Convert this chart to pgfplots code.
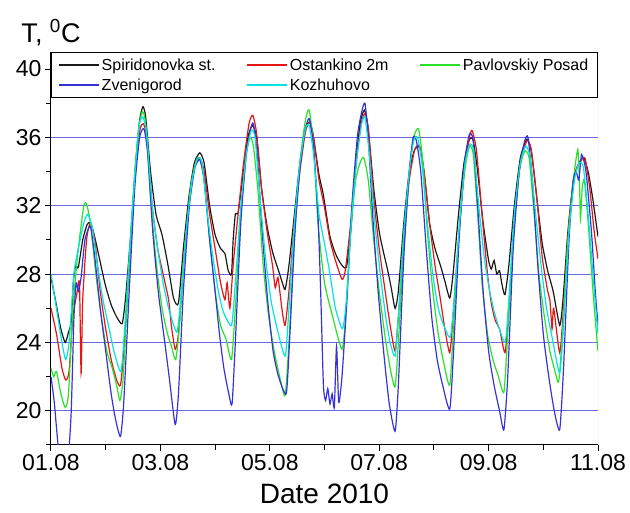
\documentclass[border=0pt]{standalone}
\usepackage{fontspec}
\setmainfont{Liberation Sans}
\usepackage{pgfplots}
\pgfplotsset{compat=1.18}
\definecolor{gridblue}{RGB}{105,105,225}
\definecolor{cBlack}{RGB}{25,25,25}
\definecolor{cRed}{RGB}{230,20,20}
\definecolor{cGreen}{RGB}{40,225,40}
\definecolor{cBlue}{RGB}{55,50,215}
\definecolor{cCyan}{RGB}{0,228,228}
\begin{document}
\begin{tikzpicture}
\begin{axis}[
  width=547pt, height=393pt, scale only axis,
  xmin=0, xmax=10, ymin=18, ymax=41,
  xtick={0,2,4,6,8,10},
  xticklabels={01.08,03.08,05.08,07.08,09.08,11.08},
  minor xtick={1,3,5,7,9},
  ytick={20,24,28,32,36,40},
  minor ytick={18,22,26,30,34,38},
  tick align=outside, major tick length=6pt, minor tick length=5pt,
  axis x line*=bottom, axis y line*=left,
  axis line style={black, line width=1pt},
  major tick style={black, line width=1pt},
  minor tick style={black, line width=1pt},
  ymajorgrids,
  major grid style={draw=gridblue, line width=0.9pt},
  /pgf/number format/assume math mode=true,
  tick label style={font=\fontsize{23}{25}\selectfont},
  xlabel={Date 2010},
  xlabel style={font=\fontsize{28}{30}\selectfont, yshift=-6pt},
  ylabel={T, \textsuperscript{0}C},
  ylabel style={font=\fontsize{27}{29}\selectfont, rotate=-90, at={(rel axis cs:0,1)}, anchor=south, yshift=3pt},
  legend columns=3,
  legend cell align=left,
  legend style={at={(0,1)}, anchor=north west, draw=black, line width=0.9pt, fill=white,
    font=\fontsize{16}{18}\selectfont, inner xsep=7pt, inner ysep=4pt, row sep=3pt,
    /tikz/every even column/.append style={column sep=29pt}},
  legend image code/.code={\draw[#1, line width=1.3pt] (0pt,0pt) -- (40pt,0pt);},
  clip=true,
]
\coordinate (O) at (rel axis cs:0,0);
\draw[gray!55, line width=0.8pt] (rel axis cs:1,0) -- (rel axis cs:1,1);
% Spiridonovka st.
\addplot[cBlack, line width=1.2pt, smooth, tension=0.35] coordinates {
(0,27.8) (0.08,26.5) (0.18,24.8) (0.26,24.0) (0.32,24.6) (0.37,25.2) (0.41,27.6) (0.45,28.5) (0.5,28.4) (0.58,30.0) (0.66,30.9) (0.72,31.0) (0.79,30.3) (0.88,29.0) (0.99,27.4) (1.1,26.2) (1.2,25.5) (1.3,25.1) (1.36,26.5) (1.45,30.0) (1.55,34.5) (1.62,37.0) (1.68,37.8) (1.73,37.2) (1.82,34.0) (1.92,31.5) (2.03,30.3) (2.14,28.5) (2.24,26.6) (2.33,26.3) (2.42,29.5) (2.52,32.5) (2.62,34.5) (2.72,35.1) (2.8,34.5) (2.9,32.0) (3.0,30.3) (3.1,29.5) (3.18,29.2) (3.24,28.2) (3.3,28.0) (3.33,30.0) (3.37,31.5) (3.42,31.6) (3.5,33.5) (3.6,36.0) (3.68,36.7) (3.76,36.0) (3.85,33.0) (3.95,30.8) (4.05,29.3) (4.15,28.3) (4.22,27.6) (4.28,27.1) (4.35,28.5) (4.45,31.5) (4.55,34.5) (4.65,36.5) (4.73,36.9) (4.8,36.0) (4.9,33.8) (4.97,32.8) (5.02,31.8) (5.1,30.2) (5.2,29.2) (5.3,28.6) (5.4,28.4) (5.48,30.5) (5.56,34.0) (5.65,36.8) (5.73,37.6) (5.8,36.5) (5.9,33.0) (6.0,30.5) (6.07,29.4) (6.15,28.3) (6.22,27.2) (6.29,26.0) (6.35,27.0) (6.45,31.0) (6.55,34.0) (6.65,35.3) (6.74,35.4) (6.82,34.0) (6.92,31.0) (7.02,29.5) (7.12,28.5) (7.2,27.6) (7.29,26.6) (7.35,28.0) (7.45,31.5) (7.55,34.5) (7.65,35.9) (7.72,35.8) (7.8,34.0) (7.9,31.0) (8.0,28.8) (8.05,28.3) (8.1,28.8) (8.15,28.0) (8.2,28.2) (8.25,27.3) (8.3,26.8) (8.37,28.5) (8.47,32.0) (8.58,34.8) (8.7,35.9) (8.78,35.2) (8.88,32.5) (8.98,29.8) (9.08,28.2) (9.18,27.0) (9.3,25.0) (9.36,26.5) (9.45,30.5) (9.55,33.5) (9.65,34.5) (9.74,34.8) (9.82,34.0) (9.9,32.5) (10.0,30.2)
};
\addlegendentry{Spiridonovka st.}
% Ostankino 2m
\addplot[cRed, line width=1.2pt, smooth, tension=0.35] coordinates {
(0,26.0) (0.1,24.5) (0.2,22.5) (0.27,21.8) (0.33,22.3) (0.4,25.5) (0.47,26.8) (0.52,27.5) (0.55,22.2) (0.58,26.5) (0.65,30.0) (0.72,31.0) (0.8,30.0) (0.9,27.0) (1.0,24.8) (1.1,23.0) (1.2,21.8) (1.27,21.5) (1.33,23.5) (1.45,29.5) (1.55,34.5) (1.63,36.5) (1.69,36.8) (1.75,36.0) (1.85,32.0) (1.95,29.5) (2.05,28.0) (2.15,26.5) (2.2,25.0) (2.27,23.6) (2.33,24.5) (2.42,28.5) (2.52,32.0) (2.62,34.3) (2.72,34.8) (2.8,34.0) (2.9,31.5) (3.0,29.5) (3.1,27.5) (3.18,26.5) (3.22,27.5) (3.27,26.0) (3.33,28.5) (3.42,31.5) (3.52,34.5) (3.62,36.8) (3.69,37.3) (3.76,36.2) (3.85,33.0) (3.95,30.5) (4.05,28.5) (4.1,27.2) (4.15,27.8) (4.22,26.0) (4.28,25.0) (4.35,27.0) (4.45,31.0) (4.55,34.0) (4.65,36.3) (4.73,36.9) (4.8,36.0) (4.9,33.5) (5.0,31.9) (5.1,30.0) (5.2,28.8) (5.32,27.7) (5.38,28.2) (5.48,31.0) (5.58,34.5) (5.67,36.8) (5.74,37.4) (5.8,36.5) (5.9,32.5) (6.0,29.5) (6.1,27.2) (6.2,25.0) (6.29,23.5) (6.35,25.5) (6.45,30.0) (6.55,33.5) (6.65,35.3) (6.74,35.5) (6.82,34.0) (6.92,31.0) (7.02,28.5) (7.12,26.5) (7.2,24.8) (7.29,23.4) (7.35,25.5) (7.45,30.0) (7.55,33.8) (7.65,36.0) (7.7,36.4) (7.78,35.2) (7.88,31.5) (7.98,28.0) (8.05,26.3) (8.12,25.3) (8.2,24.8) (8.3,23.4) (8.37,26.0) (8.47,31.0) (8.58,34.5) (8.7,35.8) (8.78,35.3) (8.88,32.5) (8.98,29.0) (9.08,27.0) (9.12,26.5) (9.16,24.8) (9.19,26.0) (9.3,23.4) (9.37,26.0) (9.47,31.0) (9.57,33.8) (9.66,34.5) (9.76,34.8) (9.85,33.0) (9.93,30.5) (10.0,28.9)
};
\addlegendentry{Ostankino 2m}
% Pavlovskiy Posad
\addplot[cGreen, line width=1.2pt, smooth, tension=0.35] coordinates {
(0,22.5) (0.05,22.0) (0.1,22.3) (0.18,21.0) (0.26,20.2) (0.32,21.0) (0.4,26.0) (0.5,29.5) (0.6,32.0) (0.65,32.1) (0.72,31.0) (0.82,28.0) (0.92,25.5) (1.02,23.5) (1.12,22.5) (1.2,21.5) (1.26,20.6) (1.32,22.0) (1.42,28.0) (1.52,33.5) (1.6,36.5) (1.67,37.5) (1.73,36.8) (1.83,32.0) (1.93,28.5) (2.03,26.0) (2.13,24.5) (2.2,23.8) (2.28,23.0) (2.35,25.0) (2.45,29.5) (2.55,33.0) (2.65,34.6) (2.72,34.8) (2.8,33.5) (2.9,30.0) (3.0,27.0) (3.1,25.0) (3.2,24.2) (3.3,23.0) (3.37,26.0) (3.47,31.5) (3.57,35.0) (3.64,36.0) (3.7,35.5) (3.78,33.0) (3.88,28.5) (3.98,25.5) (4.08,23.5) (4.18,22.0) (4.28,20.9) (4.35,24.0) (4.45,30.0) (4.55,34.5) (4.65,37.0) (4.72,37.6) (4.8,35.5) (4.88,31.0) (5.0,27.5) (5.15,25.5) (5.32,23.6) (5.4,26.0) (5.48,30.5) (5.57,33.5) (5.66,34.6) (5.72,34.8) (5.8,33.5) (5.9,30.0) (6.0,27.0) (6.1,24.5) (6.2,22.5) (6.29,21.4) (6.35,24.0) (6.45,29.5) (6.55,34.0) (6.63,36.0) (6.72,36.5) (6.8,34.5) (6.88,30.5) (6.98,27.0) (7.08,24.5) (7.18,22.8) (7.29,21.5) (7.36,25.0) (7.46,30.5) (7.56,34.0) (7.65,35.5) (7.72,35.0) (7.8,31.5) (7.88,27.5) (7.98,24.5) (8.08,23.0) (8.18,22.0) (8.28,21.1) (8.35,24.5) (8.45,30.0) (8.56,34.0) (8.66,35.2) (8.74,34.8) (8.82,32.0) (8.92,28.0) (9.02,25.5) (9.12,23.5) (9.2,22.5) (9.28,21.7) (9.35,24.5) (9.45,30.0) (9.55,33.5) (9.63,35.3) (9.66,33.5) (9.68,31.2) (9.71,33.0) (9.75,33.5) (9.82,31.0) (9.92,26.5) (10.0,23.5)
};
\addlegendentry{Pavlovskiy Posad}
% Zvenigorod
\addplot[cBlue, line width=1.2pt, smooth, tension=0.35] coordinates {
(0,22.0) (0.06,20.5) (0.13,18.0) (0.22,16.5) (0.32,17.5) (0.37,20.0) (0.42,25.5) (0.46,27.5) (0.5,27.0) (0.55,27.8) (0.62,30.0) (0.72,30.8) (0.8,29.0) (0.9,26.0) (1.0,23.5) (1.1,21.0) (1.18,19.5) (1.27,18.5) (1.33,20.5) (1.43,27.0) (1.53,33.0) (1.62,36.0) (1.7,36.5) (1.77,35.0) (1.86,30.5) (1.96,27.0) (2.06,24.5) (2.16,22.0) (2.27,19.2) (2.33,21.0) (2.42,27.0) (2.53,32.0) (2.63,34.2) (2.72,34.7) (2.8,33.5) (2.9,30.0) (3.0,27.0) (3.08,24.5) (3.16,22.5) (3.25,21.0) (3.31,20.4) (3.37,24.0) (3.47,31.0) (3.57,35.0) (3.65,36.5) (3.7,36.8) (3.77,35.0) (3.86,30.5) (3.96,26.5) (4.06,23.5) (4.16,22.0) (4.3,21.0) (4.36,24.0) (4.46,30.5) (4.56,34.5) (4.65,36.5) (4.72,37.1) (4.8,35.5) (4.88,31.5) (4.93,27.0) (4.98,21.5) (5.02,20.6) (5.06,21.3) (5.1,20.4) (5.14,21.0) (5.18,20.2) (5.22,23.8) (5.26,20.5) (5.32,22.0) (5.4,26.0) (5.5,32.0) (5.6,36.0) (5.68,37.5) (5.74,38.0) (5.8,36.0) (5.88,31.5) (5.98,27.0) (6.08,23.5) (6.18,20.5) (6.29,18.8) (6.35,21.5) (6.45,29.0) (6.55,34.0) (6.62,36.0) (6.68,35.8) (6.76,34.0) (6.86,29.5) (6.96,25.5) (7.06,23.0) (7.16,21.5) (7.29,20.1) (7.36,23.5) (7.46,30.0) (7.56,34.5) (7.65,36.2) (7.72,35.8) (7.8,32.0) (7.9,27.0) (8.0,23.5) (8.1,21.5) (8.2,20.0) (8.28,18.9) (8.35,22.0) (8.45,29.5) (8.56,34.0) (8.66,35.8) (8.72,36.0) (8.8,33.5) (8.9,28.5) (9.0,24.5) (9.1,22.0) (9.2,20.0) (9.3,18.9) (9.37,22.5) (9.47,30.0) (9.55,33.5) (9.6,34.0) (9.65,33.5) (9.7,35.0) (9.78,34.0) (9.88,30.5) (9.95,27.0) (10.0,25.0)
};
\addlegendentry{Zvenigorod}
% Kozhuhovo
\addplot[cCyan, line width=1.2pt, smooth, tension=0.35] coordinates {
(0,28.0) (0.1,26.0) (0.2,24.0) (0.27,23.0) (0.33,24.0) (0.42,28.0) (0.5,29.5) (0.6,31.0) (0.67,31.5) (0.75,30.8) (0.85,28.5) (0.95,26.5) (1.05,25.0) (1.15,23.5) (1.28,22.3) (1.35,25.0) (1.45,30.0) (1.55,34.5) (1.62,36.8) (1.68,37.2) (1.75,36.2) (1.85,32.0) (1.95,29.5) (2.05,27.5) (2.15,26.0) (2.3,24.6) (2.37,26.5) (2.47,30.5) (2.58,33.5) (2.68,34.8) (2.76,34.5) (2.86,31.5) (2.96,29.0) (3.06,27.0) (3.15,25.8) (3.3,25.0) (3.37,27.5) (3.47,32.0) (3.57,35.0) (3.66,36.4) (3.73,36.0) (3.82,32.5) (3.92,29.0) (4.02,26.5) (4.12,25.0) (4.28,23.2) (4.35,26.0) (4.45,31.0) (4.55,34.5) (4.65,36.5) (4.72,36.7) (4.8,35.0) (4.9,31.5) (5.0,29.8) (5.1,28.0) (5.2,26.0) (5.33,24.8) (5.4,26.5) (5.5,31.5) (5.6,35.0) (5.68,36.8) (5.74,37.2) (5.82,35.0) (5.92,31.0) (6.02,28.0) (6.12,25.5) (6.2,24.0) (6.29,23.2) (6.35,25.5) (6.45,30.5) (6.55,34.0) (6.63,35.8) (6.7,36.0) (6.78,34.5) (6.88,31.0) (6.98,28.0) (7.08,26.0) (7.18,25.0) (7.3,24.3) (7.37,26.5) (7.47,31.0) (7.57,34.5) (7.66,35.6) (7.73,35.2) (7.82,32.0) (7.92,29.0) (8.02,27.0) (8.12,25.6) (8.3,24.0) (8.37,26.5) (8.47,31.5) (8.58,34.5) (8.68,35.5) (8.76,34.8) (8.86,31.5) (8.96,28.5) (9.06,26.0) (9.18,24.0) (9.3,22.2) (9.37,25.0) (9.47,30.5) (9.57,33.5) (9.65,34.5) (9.73,34.3) (9.82,31.5) (9.92,27.5) (10.0,24.5)
};
\addlegendentry{Kozhuhovo}
\end{axis}
\path (O) ++(-51pt,-68pt) rectangle ++(630pt,513pt);
\end{tikzpicture}
\end{document}
